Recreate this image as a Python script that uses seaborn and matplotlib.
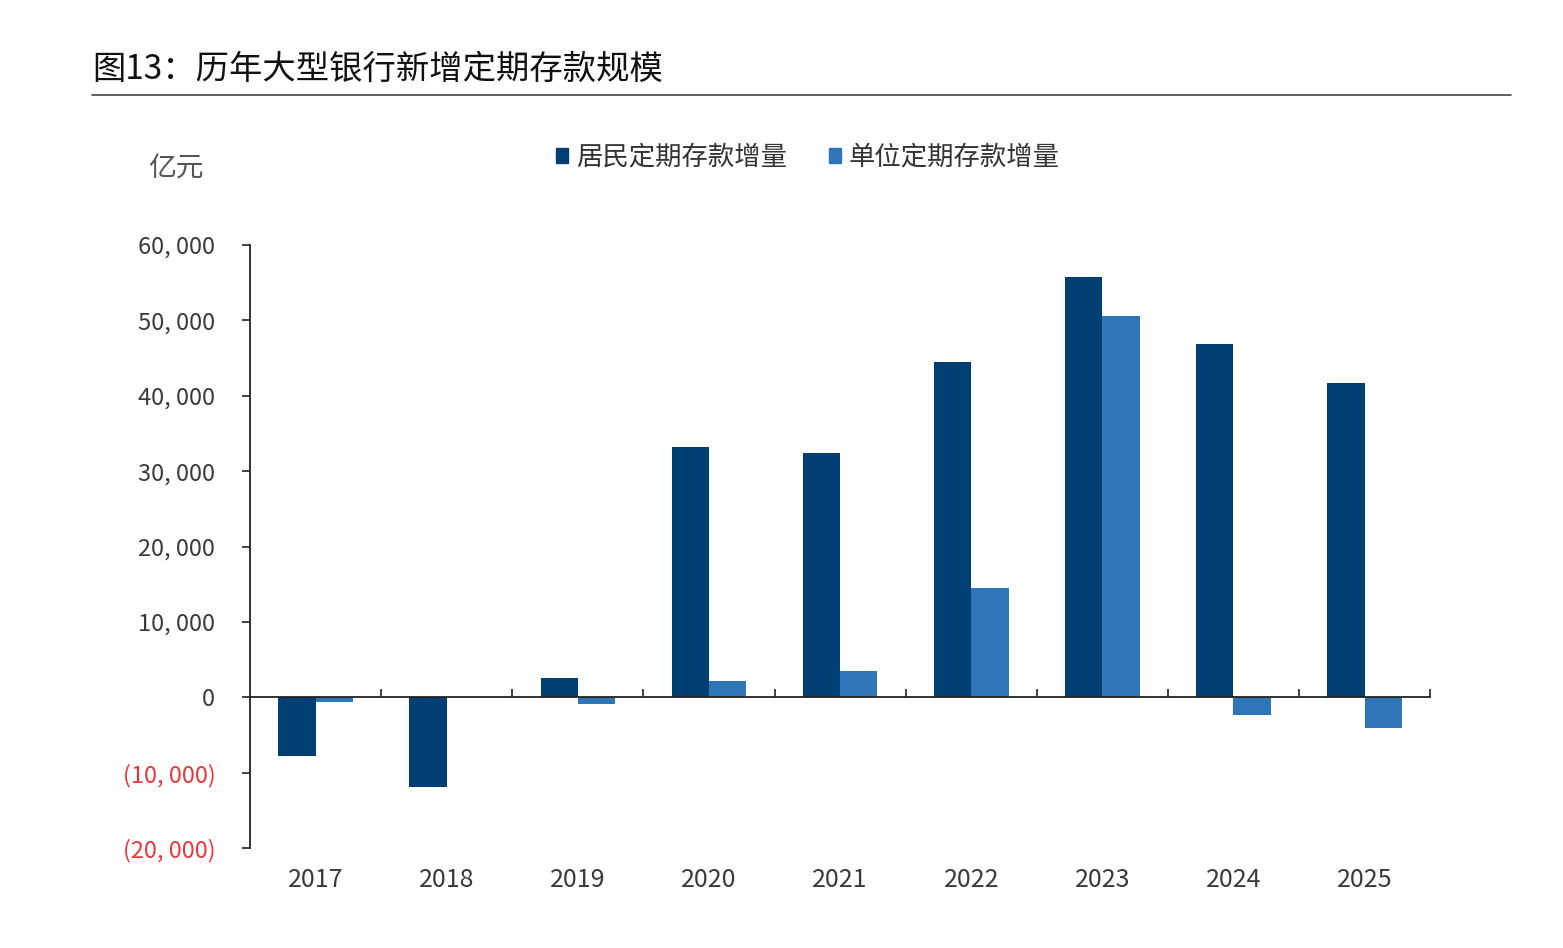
import pandas as pd
import matplotlib.pyplot as plt
import seaborn as sns

years = ['2017', '2018', '2019', '2020', '2021', '2022', '2023', '2024', '2025']
resident = [-7800, -11900, 2500, 33200, 32400, 44500, 55800, 46900, 41700]
corporate = [-600, 0, -900, 2200, 3500, 14500, 50600, -2400, -4100]
series_names = ['居民定期存款增量', '单位定期存款增量']
colors = ['#003F73', '#2F76B8']
yticks = [-20000, -10000, 0, 10000, 20000, 30000, 40000, 50000, 60000]

sns.set_theme(style='white')
plt.rcParams['font.family'] = ['Noto Sans CJK SC', 'DejaVu Sans']

df = pd.DataFrame({
    'year': years * 2,
    'value': resident + corporate,
    'series': [series_names[0]] * len(years) + [series_names[1]] * len(years),
})

fig = plt.figure(figsize=(15.63, 9.48), dpi=100)
ax = fig.add_axes([0.16, 0.1055, 0.755, 0.636])

sns.barplot(data=df, x='year', y='value', hue='series', palette=colors,
            width=0.57, linewidth=0, saturation=1, ax=ax, legend=False)

ax.set_xlim(-0.5, len(years) - 0.5)
ax.set_ylim(-20000, 60000)
ax.set_xlabel('')
ax.set_ylabel('')

# spines
for s in ['top', 'right']:
    ax.spines[s].set_visible(False)
ax.spines['bottom'].set_position(('data', 0))
ax.spines['left'].set_color('#222222')
ax.spines['bottom'].set_color('#222222')
ax.spines['left'].set_linewidth(1.3)
ax.spines['bottom'].set_linewidth(1.3)

# y ticks
ax.set_yticks(yticks)
ylabels = []
for v in yticks:
    if v < 0:
        ylabels.append('(' + f'{-v:,}'.replace(',', ', ') + ')')
    else:
        ylabels.append(f'{v:,}'.replace(',', ', '))
ax.set_yticklabels(ylabels, fontsize=17, color='#3a3a3a')
for lbl, v in zip(ax.get_yticklabels(), yticks):
    if v < 0:
        lbl.set_color('#E8383D')
ax.tick_params(axis='y', direction='out', length=6, width=1.2, color='#222222', pad=19, left=True)

# category boundary ticks on the zero line
ax.set_xticks([i + 0.5 for i in range(len(years))])
ax.set_xticklabels([])
ax.tick_params(axis='x', direction='in', length=6, width=1.2, color='#222222', bottom=True)

# year labels at the bottom
sec = ax.secondary_xaxis('bottom')
sec.set_xticks(range(len(years)))
sec.set_xticklabels(years, fontsize=18, color='#3a3a3a')
sec.tick_params(length=0, pad=14)
sec.spines['bottom'].set_visible(False)

# legend
handles = [plt.Rectangle((0, 0), 1, 1, color=c) for c in colors]
fig.legend(handles, series_names, loc='center', bbox_to_anchor=(0.517, 0.834), ncol=2,
           frameon=False, fontsize=19, handlelength=0.45, handleheight=0.45,
           handletextpad=0.3, columnspacing=1.6, labelcolor='#333333')

# unit label
fig.text(0.095, 0.822, '亿元', fontsize=20, color='#555555', va='center', ha='left')

# title and rule
fig.text(0.059, 0.927, '图13：历年大型银行新增定期存款规模', fontsize=24, color='#111111',
         va='center', ha='left')
fig.add_artist(plt.Line2D([0.059, 0.967], [0.9, 0.9], color='#444444', linewidth=1.2))

fig.savefig('out.png', dpi=100, facecolor='white')
